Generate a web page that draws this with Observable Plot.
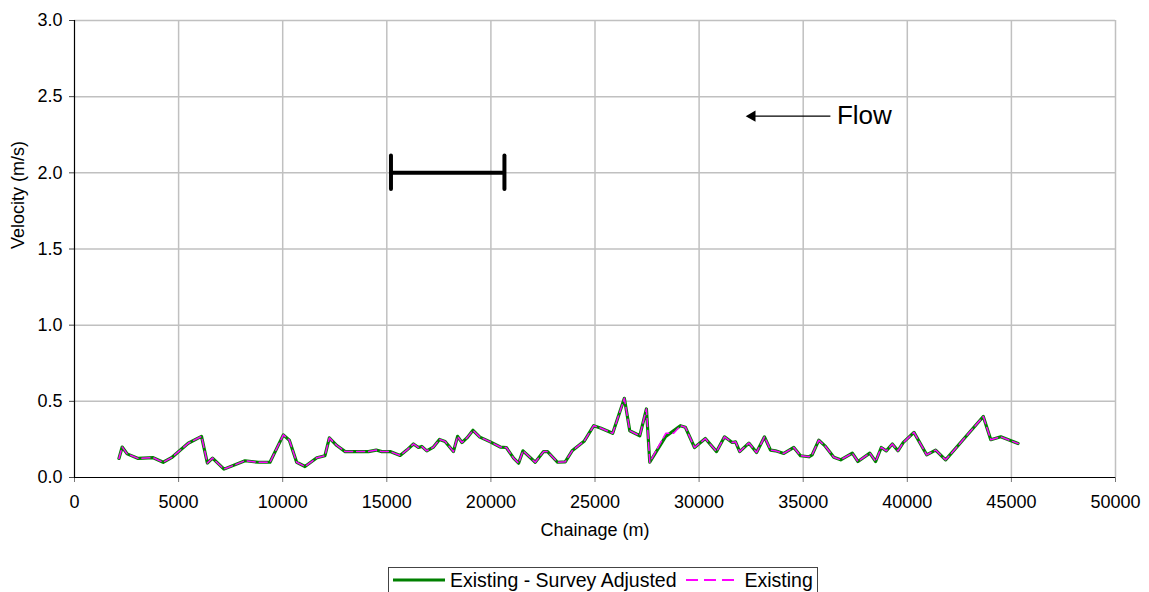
<!DOCTYPE html>
<html>
<head>
<meta charset="utf-8">
<script src="https://cdn.jsdelivr.net/npm/d3@7"></script>
<script src="https://cdn.jsdelivr.net/npm/@observablehq/plot@0.6"></script>
<style>
  html, body { margin: 0; padding: 0; background: #fff; overflow: hidden; }
  body { font-family: "Liberation Sans", Arial, sans-serif; width: 1149px; height: 592px; position: relative; }
  #chart svg { display: block; }
  #legend { position: absolute; left: 388px; top: 567px; width: 430px; height: 32px; border: 1px solid #444;
            display: flex; align-items: flex-start; font-size: 19.5px; line-height: 20px; color: #000;
            box-sizing: border-box; padding-top: 2px; }
  #legend svg { display: block; }
</style>
</head>
<body>
<div id="chart"></div>
<div id="legend"></div>
<script>
// Series: Existing - Survey Adjusted
const surveyChainage = [2135, 2290, 2530, 3060, 3780, 4260, 4660, 5460, 6100, 6380, 6630, 7180, 8190, 8830, 9390,
  10030, 10320, 10670, 11070, 11640, 12030, 12240, 12600, 13000, 14120, 14490, 14760, 15160, 15640, 15960,
  16280, 16520, 16680, 16920, 17240, 17530, 17800, 18200, 18400, 18610, 18850, 19140, 19470, 19970, 20450,
  20740, 21090, 21330, 21540, 22130, 22530, 22720, 23200, 23570, 23900, 24490, 24940, 25260, 25850, 26410,
  26670, 27150, 27470, 27630, 28380, 29100, 29340, 29780, 30300, 30840, 31220, 31590, 31750, 31950, 32390,
  32760, 33140, 33430, 33670, 34070, 34550, 34870, 35270, 35430, 35750, 36070, 36470, 36800, 37360, 37630,
  38200, 38480, 38750, 38990, 39280, 39550, 39810, 40320, 40930, 41360, 41840, 43650, 44010, 44490, 45320];
const surveyVelocity = [0.125, 0.20, 0.155, 0.125, 0.13, 0.10, 0.13, 0.225, 0.27, 0.095, 0.127, 0.055, 0.11, 0.10, 0.10,
  0.28, 0.245, 0.10, 0.072, 0.13, 0.143, 0.26, 0.21, 0.17, 0.17, 0.18, 0.17, 0.17, 0.145, 0.18,
  0.22, 0.197, 0.204, 0.175, 0.20, 0.25, 0.237, 0.17, 0.27, 0.23, 0.26, 0.31, 0.265, 0.234, 0.20,
  0.197, 0.127, 0.094, 0.175, 0.10, 0.17, 0.17, 0.10, 0.103, 0.175, 0.24, 0.34, 0.325, 0.29, 0.52,
  0.307, 0.274, 0.45, 0.10, 0.267, 0.34, 0.33, 0.197, 0.256, 0.17, 0.267, 0.23, 0.234, 0.17, 0.226,
  0.164, 0.267, 0.18, 0.175, 0.158, 0.197, 0.143, 0.136, 0.149, 0.245, 0.204, 0.133, 0.116, 0.16, 0.105,
  0.16, 0.105, 0.197, 0.175, 0.22, 0.175, 0.23, 0.296, 0.149, 0.18, 0.116, 0.40, 0.248, 0.267, 0.223];

// Series: Existing
const existingChainage = [2135, 2290, 2530, 3060, 3780, 4260, 4660, 5460, 6100, 6380, 6630, 7180, 8190, 8830, 9390,
  10030, 10320, 10670, 11070, 11640, 12030, 12240, 12600, 13000, 14120, 14490, 14760, 15160, 15640, 15960,
  16280, 16520, 16680, 16920, 17240, 17530, 17800, 18200, 18400, 18610, 18850, 19140, 19470, 19970, 20450,
  20740, 21090, 21330, 21540, 22130, 22530, 22720, 23200, 23570, 23900, 24490, 24940, 25260, 25850, 26410,
  26670, 27150, 27470, 27630, 28400, 28780, 29100, 29340, 29780, 30300, 30840, 31220, 31590, 31750, 31950, 32390,
  32760, 33140, 33430, 33670, 34070, 34550, 34870, 35270, 35430, 35750, 36070, 36470, 36800, 37360, 37630,
  38200, 38480, 38750, 38990, 39280, 39550, 39810, 40320, 40930, 41360, 41840, 43650, 44010, 44490, 45320];
const existingVelocity = [0.125, 0.20, 0.155, 0.125, 0.13, 0.10, 0.13, 0.225, 0.27, 0.095, 0.127, 0.055, 0.11, 0.10, 0.10,
  0.28, 0.245, 0.10, 0.072, 0.13, 0.143, 0.26, 0.21, 0.17, 0.17, 0.18, 0.17, 0.17, 0.145, 0.18,
  0.22, 0.197, 0.204, 0.175, 0.20, 0.25, 0.237, 0.17, 0.27, 0.23, 0.26, 0.31, 0.265, 0.234, 0.20,
  0.197, 0.127, 0.094, 0.175, 0.10, 0.17, 0.17, 0.10, 0.103, 0.175, 0.24, 0.34, 0.325, 0.29, 0.52,
  0.307, 0.274, 0.45, 0.10, 0.29, 0.29, 0.34, 0.33, 0.197, 0.256, 0.17, 0.267, 0.23, 0.234, 0.17, 0.226,
  0.164, 0.267, 0.18, 0.175, 0.158, 0.197, 0.143, 0.136, 0.149, 0.245, 0.204, 0.133, 0.116, 0.16, 0.105,
  0.16, 0.105, 0.197, 0.175, 0.22, 0.175, 0.23, 0.296, 0.149, 0.18, 0.116, 0.40, 0.248, 0.267, 0.223];

// Axis ticks
const xTicks = [0, 5000, 10000, 15000, 20000, 25000, 30000, 35000, 40000, 45000, 50000];
const yTicks = [0, 0.5, 1.0, 1.5, 2.0, 2.5, 3.0];

// Annotations: scale bar and flow arrow (data units)
const scaleBarX = [15200, 20650];
const scaleBarY = [2.0];
const scaleBarTick = [1.89, 2.11];
const flowArrowX = [36330, 32240]; // tail, tip
const flowArrowY = [2.372];
const flowLabel = ["Flow"];
const flowLabelX = [36620];

// Legend
const seriesNames = ["Existing - Survey Adjusted", "Existing"];
const seriesColors = ["#008000", "#ff00ff"];

const survey = surveyChainage.map((x, i) => ({x, y: surveyVelocity[i]}));
const existing = existingChainage.map((x, i) => ({x, y: existingVelocity[i]}));

const font = '"Liberation Sans", Arial, sans-serif';
const gridColor = "#c0c0c0";

const plot = Plot.plot({
  width: 1149,
  height: 560,
  marginLeft: 74,
  marginRight: 34,
  marginTop: 20,
  marginBottom: 83,
  style: {fontFamily: font, fontSize: "18px", color: "#000", background: "#fff", overflow: "visible"},
  x: {domain: [0, 50000]},
  y: {domain: [0, 3]},
  marks: [
    Plot.gridX(xTicks.filter(d => d > 0), {stroke: gridColor, strokeOpacity: 1, strokeWidth: 1.5}),
    Plot.gridY(yTicks.filter(d => d > 0), {stroke: gridColor, strokeOpacity: 1, strokeWidth: 1.5}),
    Plot.axisX(xTicks, {tickSize: 5, tickPadding: 13, fontSize: 18, label: null, stroke: "#777", tickFormat: d => String(d)}),
    Plot.axisY(yTicks, {tickSize: 5, tickPadding: 7, fontSize: 18, label: null, stroke: "#444", tickFormat: d3.format(".1f")}),
    Plot.ruleX([0], {stroke: "#000", strokeWidth: 1.2}),
    Plot.ruleY([0], {stroke: "#000", strokeWidth: 1.2}),
    Plot.text(["Chainage (m)"], {frameAnchor: "bottom", dy: 58, fontSize: 18, fill: "#000"}),
    Plot.text(["Velocity (m/s)"], {frameAnchor: "left", dx: -56, rotate: -90, fontSize: 18, fill: "#000"}),
    // Data series
    Plot.line(survey, {x: "x", y: "y", stroke: seriesColors[0], strokeWidth: 3.2, strokeLinejoin: "round"}),
    Plot.line(existing, {x: "x", y: "y", stroke: seriesColors[1], strokeWidth: 1.5, strokeDasharray: "8,4"}),
    // Scale bar
    Plot.ruleY(scaleBarY, {x1: scaleBarX[0], x2: scaleBarX[1], stroke: "#000", strokeWidth: 4}),
    Plot.ruleX(scaleBarX, {y1: scaleBarTick[0], y2: scaleBarTick[1], stroke: "#000", strokeWidth: 4, strokeLinecap: "round"}),
    // Flow arrow
    Plot.ruleY(flowArrowY, {x1: flowArrowX[0], x2: flowArrowX[1] + 400, stroke: "#000", strokeWidth: 1.3}),
    Plot.dot(flowArrowY, {x: flowArrowX[1], y: d => d, symbol: "triangle", rotate: -90, r: 4.2, dx: 6.5, fill: "#000", stroke: "none"}),
    Plot.text(flowLabel, {x: flowLabelX[0], y: flowArrowY[0], text: d => d, textAnchor: "start", fontSize: 26, fill: "#000"})
  ]
});
document.getElementById("chart").appendChild(plot);

// Legend
const legend = document.getElementById("legend");
function sample(color, dashed) {
  const svg = d3.create("svg").attr("width", 52).attr("height", 20);
  svg.append("line").attr("x1", 0).attr("x2", 52).attr("y1", 10).attr("y2", 10)
    .attr("stroke", color).attr("stroke-width", dashed ? 2 : 3.2)
    .attr("stroke-dasharray", dashed ? "12,6" : null);
  return svg.node();
}
const items = [
  {name: seriesNames[0], color: seriesColors[0], dashed: false, ml: 4, gap: 5},
  {name: seriesNames[1], color: seriesColors[1], dashed: true, ml: 9, gap: 7}
];
items.forEach(it => {
  const s = sample(it.color, it.dashed);
  s.style.marginLeft = it.ml + "px";
  legend.appendChild(s);
  const t = document.createElement("span");
  t.textContent = it.name;
  t.style.marginLeft = it.gap + "px";
  legend.appendChild(t);
});
</script>
</body>
</html>
